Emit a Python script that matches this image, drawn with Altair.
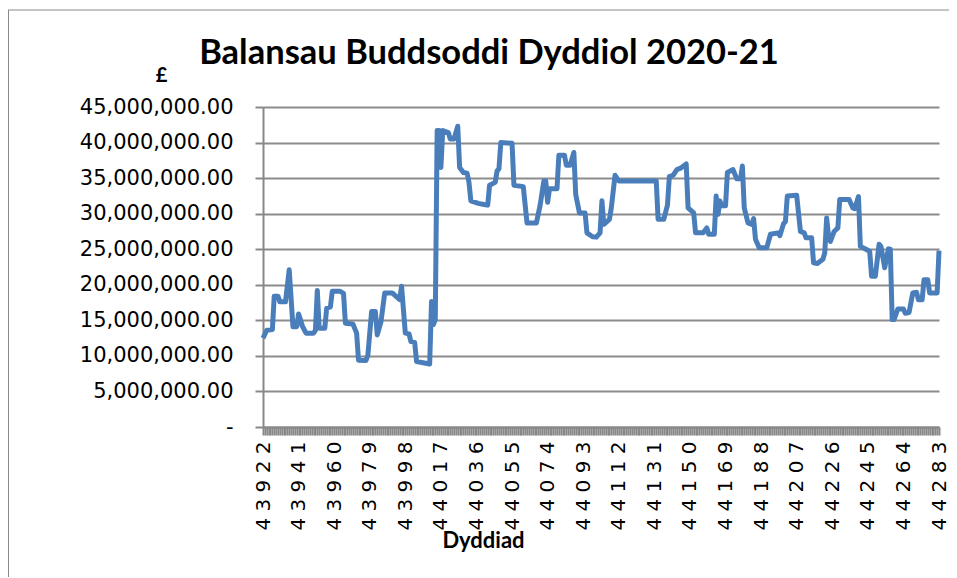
import altair as alt
import pandas as pd

# Daily investment balance (Excel serial day numbers), values in £ millions
days = [43922, 43924, 43927, 43928, 43930, 43931, 43934, 43936, 43938, 43940,
        43941, 43942, 43943, 43945, 43949, 43950, 43951, 43952, 43955, 43956,
        43958, 43959, 43963, 43965, 43966, 43970, 43972, 43973, 43977, 43978,
        43980, 43982, 43983, 43985, 43987, 43991, 43995, 43996, 43998, 44000,
        44001, 44003, 44004, 44011, 44012, 44013, 44014, 44015, 44016, 44017,
        44018, 44021, 44022, 44024, 44026, 44027, 44029, 44031, 44032, 44033,
        44037, 44040, 44042, 44043, 44046, 44047, 44048, 44049, 44055, 44056,
        44061, 44063, 44068, 44070, 44072, 44073, 44074, 44075, 44079, 44080,
        44083, 44084, 44086, 44088, 44089, 44091, 44094, 44095, 44098, 44100,
        44102, 44103, 44104, 44107, 44108, 44110, 44112, 44132, 44133, 44136,
        44138, 44139, 44141, 44143, 44145, 44148, 44149, 44152, 44153, 44157,
        44159, 44160, 44163, 44164, 44165, 44166, 44167, 44169, 44170, 44173,
        44175, 44177, 44178, 44179, 44181, 44183, 44184, 44185, 44187, 44191,
        44193, 44197, 44198, 44200, 44201, 44202, 44207, 44209, 44211, 44212,
        44215, 44216, 44218, 44221, 44222, 44223, 44224, 44225, 44227, 44229,
        44230, 44235, 44237, 44238, 44240, 44241, 44244, 44246, 44247, 44249,
        44251, 44252, 44254, 44256, 44257, 44258, 44259, 44261, 44264, 44265,
        44267, 44269, 44271, 44272, 44274, 44275, 44277, 44278, 44282, 44283]

balance_m = [12.5, 13.6, 13.7, 18.4, 18.4, 17.6, 17.6, 22.1, 14.1, 14.1,
             15.9, 15.1, 14.2, 13.2, 13.2, 13.6, 19.2, 13.9, 13.9, 16.7,
             16.9, 19.1, 19.1, 18.8, 14.6, 14.5, 13.2, 9.4, 9.35, 10.1,
             16.25, 16.25, 12.95, 14.8, 18.85, 18.85, 17.9, 19.8, 13.2, 13.1,
             12.0, 11.9, 9.2, 8.85, 17.65, 14.4, 15.1, 41.7, 41.7, 36.5,
             41.7, 41.4, 40.5, 40.5, 42.3, 36.5, 35.8, 35.7, 34.4, 31.8,
             31.45, 31.3, 31.2, 34.0, 34.4, 36.0, 36.3, 40.0, 39.9, 34.0,
             33.8, 28.7, 28.7, 31.2, 34.6, 34.6, 31.6, 33.5, 33.5, 38.2,
             38.2, 36.8, 36.8, 38.6, 32.7, 30.1, 30.1, 27.3, 26.75, 26.7,
             27.3, 31.8, 28.5, 29.2, 30.8, 35.4, 34.6, 34.6, 29.2, 29.2,
             31.2, 35.2, 35.4, 36.2, 36.4, 37.0, 30.8, 30.1, 27.3, 27.3,
             28.0, 27.1, 27.1, 32.5, 29.9, 31.8, 31.1, 31.1, 35.8, 36.2,
             34.9, 34.9, 36.7, 30.8, 28.7, 28.5, 29.3, 26.4, 25.2, 25.2,
             27.1, 27.3, 26.9, 28.6, 28.9, 32.5, 32.6, 27.5, 27.3, 26.6,
             26.6, 23.1, 23.0, 23.6, 24.5, 29.4, 26.8, 26.1, 27.5, 28.0,
             32.0, 32.0, 30.8, 30.7, 32.4, 25.4, 25.0, 24.7, 21.2, 21.2,
             25.7, 25.4, 22.4, 25.05, 25.0, 15.1, 15.1, 16.6, 16.6, 16.0,
             16.1, 18.85, 18.95, 17.9, 17.9, 20.7, 20.7, 18.85, 18.85, 24.8]

y_ticks = [0, 5000000, 10000000, 15000000, 20000000, 25000000,
           30000000, 35000000, 40000000, 45000000]
first_day, last_day, label_step = 43922, 44283, 19
chart_title = "Balansau Buddsoddi Dyddiol 2020-21"

df = pd.DataFrame({"day": days, "balance": [v * 1_000_000 for v in balance_m]})
all_days = list(range(first_day, last_day + 1))

TITLE_FONT = "Lato"
LABEL_FONT = "DejaVu Sans"
GRAY = "#888888"
NB = "\u00a0"

x_axis = alt.Axis(
    values=all_days,
    labelExpr=f"(datum.value - {first_day}) % {label_step} == 0 ? "
              f"replace(toString(datum.value), regexp('([0-9])(?=[0-9])', 'g'), '$1{NB}') : ''",
    labelAngle=270,
    labelOverlap=False,
    labelBound=False,
    labelFlush=False,
    labelFont=LABEL_FONT,
    labelFontSize=20,
    labelColor="#000000",
    labelPadding=6,
    tickSize=8,
    tickWidth=2,
    tickColor=GRAY,
    domainColor=GRAY,
    domainWidth=2,
    grid=False,
    title="Dyddiad",
    titleFont=TITLE_FONT,
    titleFontSize=22,
    titleFontWeight="bold",
    titleColor="#000000",
    titleX=220,
    titleY=113,
    titleAlign="center",
    titleBaseline="middle",
)

y_axis = alt.Axis(
    values=y_ticks,
    labelExpr=f"datum.value == 0 ? '-{NB}{NB}' : format(datum.value, ',.2f')",
    labelFont=LABEL_FONT,
    labelFontSize=21,
    labelColor="#000000",
    labelPadding=22,
    tickSize=8,
    tickWidth=2,
    tickColor=GRAY,
    domainColor=GRAY,
    domainWidth=2,
    grid=True,
    gridColor="#8c8c8c",
    gridWidth=2,
    title="£",
    titleAngle=0,
    titleX=-102,
    titleY=-32,
    titleAlign="center",
    titleBaseline="middle",
    titleFont=TITLE_FONT,
    titleFontSize=20,
    titleFontWeight="bold",
    titleColor="#000000",
)

line = alt.Chart(df).mark_line(color="#4a7ebb", strokeWidth=5, strokeJoin="round").encode(
    x=alt.X("day:Q", scale=alt.Scale(domain=[first_day, last_day], nice=False, zero=False), axis=x_axis),
    y=alt.Y("balance:Q", scale=alt.Scale(domain=[0, 45000000], nice=False), axis=y_axis),
)

frame_data = pd.DataFrame({"title": [chart_title]})
title_text = alt.Chart(frame_data).mark_text(
    font=TITLE_FONT, fontSize=34.5, fontWeight="bold", color="#000000",
    align="center", baseline="alphabetic",
).encode(x=alt.value(226), y=alt.value(-43), text="title:N")

top_border = alt.Chart(frame_data).mark_rule(color="#8a8a8a", strokeWidth=1).encode(
    x=alt.value(-255), x2=alt.value(720), y=alt.value(-97)
)
left_border = alt.Chart(frame_data).mark_rule(color="#8a8a8a", strokeWidth=1).encode(
    x=alt.value(-254.5), y=alt.value(-97), y2=alt.value(480)
)

chart = alt.layer(line, title_text, top_border, left_border).properties(
    width=676,
    height=320,
    padding={"left": 255, "top": 99, "right": 10, "bottom": 150},
    autosize=alt.AutoSizeParams(type="none"),
    background="white",
).configure_view(stroke=None)

chart.save("out.html", embed_options={"renderer": "svg", "actions": False})
